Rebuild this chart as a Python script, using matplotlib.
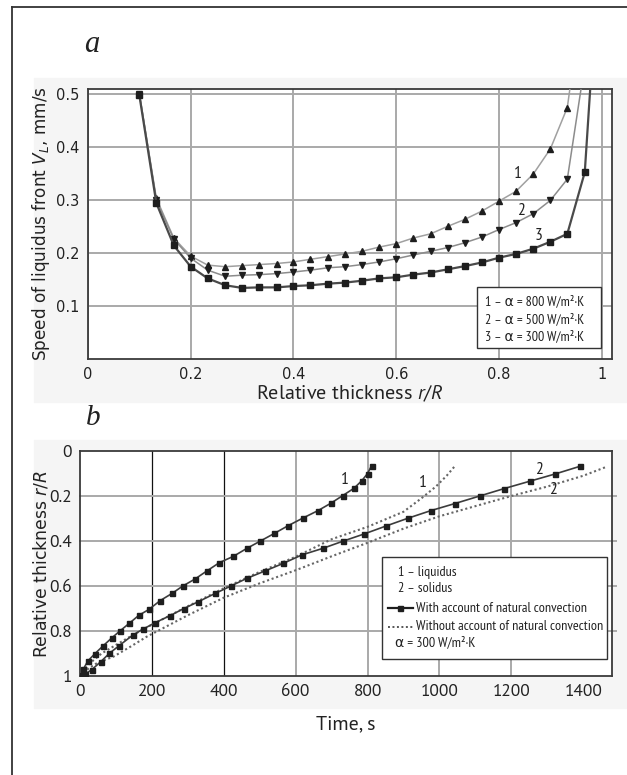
import matplotlib
matplotlib.use("Agg")
import matplotlib.pyplot as plt
from matplotlib import font_manager
from matplotlib.lines import Line2D
from matplotlib.patches import Rectangle

# ---------------- data: panel a ----------------
rel_thickness = [0.1, 0.133, 0.167, 0.2, 0.233, 0.267, 0.3, 0.333, 0.367, 0.4,
                 0.433, 0.467, 0.5, 0.533, 0.567, 0.6, 0.633, 0.667, 0.7, 0.733,
                 0.767, 0.8, 0.833, 0.867, 0.9, 0.933]
speed_800 = [0.5, 0.303, 0.228, 0.194, 0.177, 0.174, 0.176, 0.178, 0.18, 0.183,
             0.188, 0.193, 0.198, 0.203, 0.211, 0.2175, 0.228, 0.236, 0.25, 0.263,
             0.279, 0.2975, 0.316, 0.349, 0.396, 0.474]
speed_500 = [0.5, 0.3, 0.226, 0.19, 0.1675, 0.156, 0.158, 0.159, 0.161, 0.164,
             0.1675, 0.172, 0.174, 0.178, 0.183, 0.189, 0.196, 0.203, 0.21, 0.219,
             0.23, 0.244, 0.257, 0.274, 0.299, 0.339]
rel_thickness_300 = rel_thickness + [0.967]
speed_300 = [0.497, 0.294, 0.214, 0.174, 0.152, 0.139, 0.134, 0.135, 0.135, 0.1375,
             0.139, 0.142, 0.144, 0.1475, 0.152, 0.154, 0.159, 0.163, 0.169, 0.175,
             0.182, 0.191, 0.198, 0.208, 0.221, 0.236, 0.352]
# where each curve leaves the top of the plot (no marker there)
exit_x = [0.941, 0.963, 0.979]
exit_y = [0.53, 0.53, 0.53]
legend_a = ["1 – α = 800 W/m²·K", "2 – α = 500 W/m²·K", "3 – α = 300 W/m²·K"]
xticks_a = [0, 0.2, 0.4, 0.6, 0.8, 1]
xticklabels_a = ["0", "0.2", "0.4", "0.6", "0.8", "1"]
yticks_a = [0.1, 0.2, 0.3, 0.4, 0.5]

# ---------------- data: panel b ----------------
t_liq_conv = [5, 9, 22, 42, 65, 89, 111, 137, 164, 192, 223, 256, 286, 320, 353,
              388, 427, 464, 502, 541, 579, 619, 662, 697, 731, 762, 784, 800, 811]
r_liq_conv = [0.996, 0.97, 0.933, 0.9, 0.865, 0.83, 0.8, 0.766, 0.73, 0.704, 0.665,
              0.633, 0.6, 0.569, 0.533, 0.496, 0.468, 0.433, 0.4, 0.366, 0.332,
              0.299, 0.265, 0.233, 0.198, 0.166, 0.132, 0.1, 0.066]
t_sol_conv = [5, 15, 32, 58, 82, 109, 147, 174, 209, 249, 289, 329, 376, 420, 464,
              515, 566, 617, 675, 733, 790, 852, 912, 976, 1042, 1112, 1180, 1252,
              1322, 1391]
r_sol_conv = [1.0, 0.99, 0.973, 0.936, 0.899, 0.865, 0.818, 0.793, 0.763, 0.733,
              0.7, 0.67, 0.633, 0.6, 0.566, 0.533, 0.499, 0.462, 0.433, 0.4, 0.369,
              0.333, 0.299, 0.265, 0.234, 0.2, 0.167, 0.134, 0.102, 0.068]
t_liq_noconv = [0, 10, 30, 60, 100, 150, 200, 300, 400, 500, 600, 700, 800, 900,
                950, 990, 1020, 1045]
r_liq_noconv = [1.0, 0.975, 0.94, 0.9, 0.862, 0.815, 0.772, 0.69, 0.61, 0.537,
                0.47, 0.392, 0.337, 0.27, 0.21, 0.158, 0.11, 0.063]
t_sol_noconv = [0, 10, 25, 50, 93, 140, 186, 300, 400, 500, 600, 700, 800, 900,
                1000, 1100, 1200, 1300, 1400, 1465]
r_sol_noconv = [1.0, 0.985, 0.965, 0.94, 0.914, 0.87, 0.825, 0.73, 0.652, 0.588,
                0.53, 0.468, 0.408, 0.345, 0.29, 0.245, 0.2, 0.158, 0.11, 0.07]
legend_b = ["1 – liquidus", "2 – solidus", "With account of natural convection",
            "Without account of natural convection", "α = 300 W/m²·K"]
xticks_b = [0, 200, 400, 600, 800, 1000, 1200, 1400]
yticks_b = [0, 0.2, 0.4, 0.6, 0.8, 1]
yticklabels_b = ["0", "0.2", "0.4", "0.6", "0.8", "1"]

# ---------------- fonts ----------------
avail = {f.name for f in font_manager.fontManager.ttflist}


def pick(*names):
    for n in names:
        if n in avail:
            return n
    return "DejaVu Sans"


NARROW = pick("PT Sans Narrow", "Fira Sans Condensed", "Roboto Condensed", "Open Sans Condensed")
HUMAN = pick("PT Sans", "Lato", "Open Sans")
SERIF = pick("Liberation Serif", "DejaVu Serif")
plt.rcParams["mathtext.rm"] = HUMAN
plt.rcParams["mathtext.it"] = HUMAN + ":italic"
plt.rcParams["mathtext.bf"] = HUMAN + ":bold"

W, H = 627, 775
fig = plt.figure(figsize=(W / 100, H / 100), dpi=100)
renderer = fig.canvas.get_renderer()


def fx(px):
    return px / W


def fy(py):
    return 1 - py / H


def fit_width(txt, target_px):
    bb = txt.get_window_extent(renderer)
    txt.set_fontsize(txt.get_fontsize() * target_px / bb.width)
    return txt.get_fontsize()


GRID = "#a9a9a9"
SPINE = "#3a3a3a"

# background tint bands
fig.patches.append(Rectangle((fx(34), fy(402)), fx(627 - 34), (402 - 78) / H,
                             transform=fig.transFigure, color="#f5f5f5", zorder=-5))
fig.patches.append(Rectangle((fx(34), fy(708)), fx(627 - 34), (708 - 440) / H,
                             transform=fig.transFigure, color="#f5f5f5", zorder=-5))
# outer frame (left + top)
fig.lines.append(Line2D([fx(12), fx(12)], [fy(7), 0], transform=fig.transFigure,
                        color="#333333", lw=1.3))
fig.lines.append(Line2D([fx(12), 1], [fy(7), fy(7)], transform=fig.transFigure,
                        color="#333333", lw=1.3))

# ================= panel a =================
axa = fig.add_axes([fx(88), fy(359), fx(612 - 88), (359 - 89) / H])
axa.set_facecolor("white")
axa.set_xlim(0, 1.02)
axa.set_ylim(0, 0.509)
axa.set_xticks(xticks_a)
axa.set_xticklabels(xticklabels_a)
axa.set_yticks(yticks_a)
axa.tick_params(length=0, labelsize=10.5, pad=6)
for lab in axa.get_xticklabels() + axa.get_yticklabels():
    lab.set_fontfamily("DejaVu Sans")
    lab.set_color("#222222")
axa.grid(True, color=GRID, lw=1.4)
axa.set_axisbelow(True)
for s in axa.spines.values():
    s.set_color(SPINE)
    s.set_linewidth(1.3)

curves = [
    (rel_thickness, speed_800, "^", "#a0a0a0", 1.1),
    (rel_thickness, speed_500, "v", "#8c8c8c", 1.1),
    (rel_thickness_300, speed_300, "s", "#4a4a4a", 1.6),
]
for i, (xs, ys, m, c, lw) in enumerate(curves):
    xx = list(xs) + [exit_x[i]]
    yy = list(ys) + [exit_y[i]]
    axa.plot(xx, yy, color=c, lw=lw, marker=m, markersize=4.2,
             markerfacecolor="#1e1e1e", markeredgecolor="#1e1e1e",
             markevery=list(range(len(xs))), zorder=3)

for (lx, ly, s) in [(0.837, 0.349, "1"), (0.842, 0.279, "2"), (0.877, 0.232, "3")]:
    axa.text(lx, ly, s, fontsize=12.5, family=NARROW, color="#222",
             ha="center", va="center")

axa.set_ylabel(r"Speed of liquidus front $V_L$, mm/s", fontsize=12.2,
               family="DejaVu Sans", color="#222")
axa.yaxis.set_label_coords(-0.069, 0.5)
xla = axa.set_xlabel(r"Relative thickness $r$/$R$", fontsize=14, family=HUMAN,
                     color="#222", labelpad=1, math_fontfamily="custom")
fit_width(xla, 188)

# legend box a
fig.patches.append(Rectangle((fx(477), fy(348)), fx(601 - 477), (348 - 287) / H,
                             transform=fig.transFigure, facecolor="white",
                             edgecolor="#333333", lw=1.0, zorder=10))
ta = []
for k, (txt, py) in enumerate(zip(legend_a, [301.5, 319.3, 336.8])):
    ta.append(fig.text(fx(485), fy(py), txt, fontsize=10.5, family=[NARROW, "DejaVu Sans"],
                       color="#222", va="center", ha="left", zorder=11))
sz = fit_width(ta[0], 100)
for t in ta[1:]:
    t.set_fontsize(sz)

fig.text(fx(84), fy(45), "a", fontsize=22, family=SERIF, style="italic",
         va="center", ha="left", color="#222")

# ================= panel b =================
axb = fig.add_axes([fx(80), fy(676), fx(612 - 80), (676 - 451) / H])
axb.set_facecolor("white")
axb.set_xlim(0, 1480)
axb.set_ylim(1, 0)
axb.set_xticks(xticks_b)
axb.set_yticks(yticks_b)
axb.set_yticklabels(yticklabels_b)
axb.tick_params(length=0, labelsize=12.5, pad=6)
for lab in axb.get_xticklabels() + axb.get_yticklabels():
    lab.set_fontfamily(HUMAN)
    lab.set_color("#222222")
for s in axb.spines.values():
    s.set_color(SPINE)
    s.set_linewidth(1.3)
for v in [600, 800, 1000, 1200]:
    axb.axvline(v, color=GRID, lw=1.4, zorder=0)
for v in [200, 400]:
    axb.axvline(v, color="#111111", lw=0.9, zorder=0)
for v in [0.2, 0.4, 0.6, 0.8]:
    axb.axhline(v, xmin=0, xmax=1.008, color=GRID, lw=1.4, zorder=0, clip_on=False)

axb.plot(t_liq_noconv, r_liq_noconv, color="#666666", lw=1.5, ls=(0, (1, 1.3)), zorder=2)
axb.plot(t_sol_noconv, r_sol_noconv, color="#666666", lw=1.5, ls=(0, (1, 1.3)), zorder=2)
axb.plot(t_liq_conv, r_liq_conv, color="#3c3c3c", lw=1.2, marker="s", markersize=3.6,
         markerfacecolor="#1e1e1e", markeredgecolor="#1e1e1e", zorder=3)
axb.plot(t_sol_conv, r_sol_conv, color="#3c3c3c", lw=1.2, marker="s", markersize=3.6,
         markerfacecolor="#1e1e1e", markeredgecolor="#1e1e1e", zorder=3)

for (tx, ty, s) in [(738, 0.131, "1"), (953, 0.143, "1"), (1277, 0.083, "2"),
                    (1316, 0.175, "2")]:
    axb.text(tx, ty, s, fontsize=12.5, family=NARROW, color="#222",
             ha="center", va="center")

axb.set_ylabel(r"Relative thickness $r$/$R$", fontsize=12.4, family="DejaVu Sans",
               color="#222")
axb.yaxis.set_label_coords(-0.056, 0.5)
xlb = axb.set_xlabel("Time, s", fontsize=14, family=HUMAN, color="#222", labelpad=11)
fit_width(xlb, 60)

# legend box b
fig.patches.append(Rectangle((fx(382), fy(659)), fx(607 - 382), (659 - 557) / H,
                             transform=fig.transFigure, facecolor="white",
                             edgecolor="#333333", lw=1.0, zorder=10))
tb = []
tb.append(fig.text(fx(398), fy(572.5), legend_b[0], fontsize=10.5, family=NARROW,
                   color="#222", va="center", ha="left", zorder=11))
tb.append(fig.text(fx(398), fy(588), legend_b[1], fontsize=10.5, family=NARROW,
                   color="#222", va="center", ha="left", zorder=11))
fig.lines.append(Line2D([fx(388), fx(413)], [fy(608), fy(608)], transform=fig.transFigure,
                        color="#1e1e1e", lw=1.6, zorder=11))
fig.lines.append(Line2D([fx(400.5)], [fy(608)], transform=fig.transFigure,
                        color="#1e1e1e", marker="s", markersize=3.6, ls="none", zorder=12))
tb.append(fig.text(fx(416), fy(608), legend_b[2], fontsize=10.5, family=NARROW,
                   color="#222", va="center", ha="left", zorder=11))
fig.lines.append(Line2D([fx(388), fx(413)], [fy(626.5), fy(626.5)],
                        transform=fig.transFigure, color="#555555", lw=1.4,
                        ls=(0, (1, 1.3)), zorder=11))
tb.append(fig.text(fx(416), fy(626.5), legend_b[3], fontsize=10.5, family=NARROW,
                   color="#222", va="center", ha="left", zorder=11))
tb.append(fig.text(fx(395), fy(643), legend_b[4], fontsize=10.5,
                   family=[NARROW, "DejaVu Sans"], color="#222", va="center",
                   ha="left", zorder=11))
sz = fit_width(tb[3], 186)
for t in tb:
    t.set_fontsize(sz)

fig.text(fx(86), fy(418), "b", fontsize=21, family=SERIF, style="italic",
         va="center", ha="left", color="#222")

fig.savefig("out.png", dpi=100, facecolor="white")
